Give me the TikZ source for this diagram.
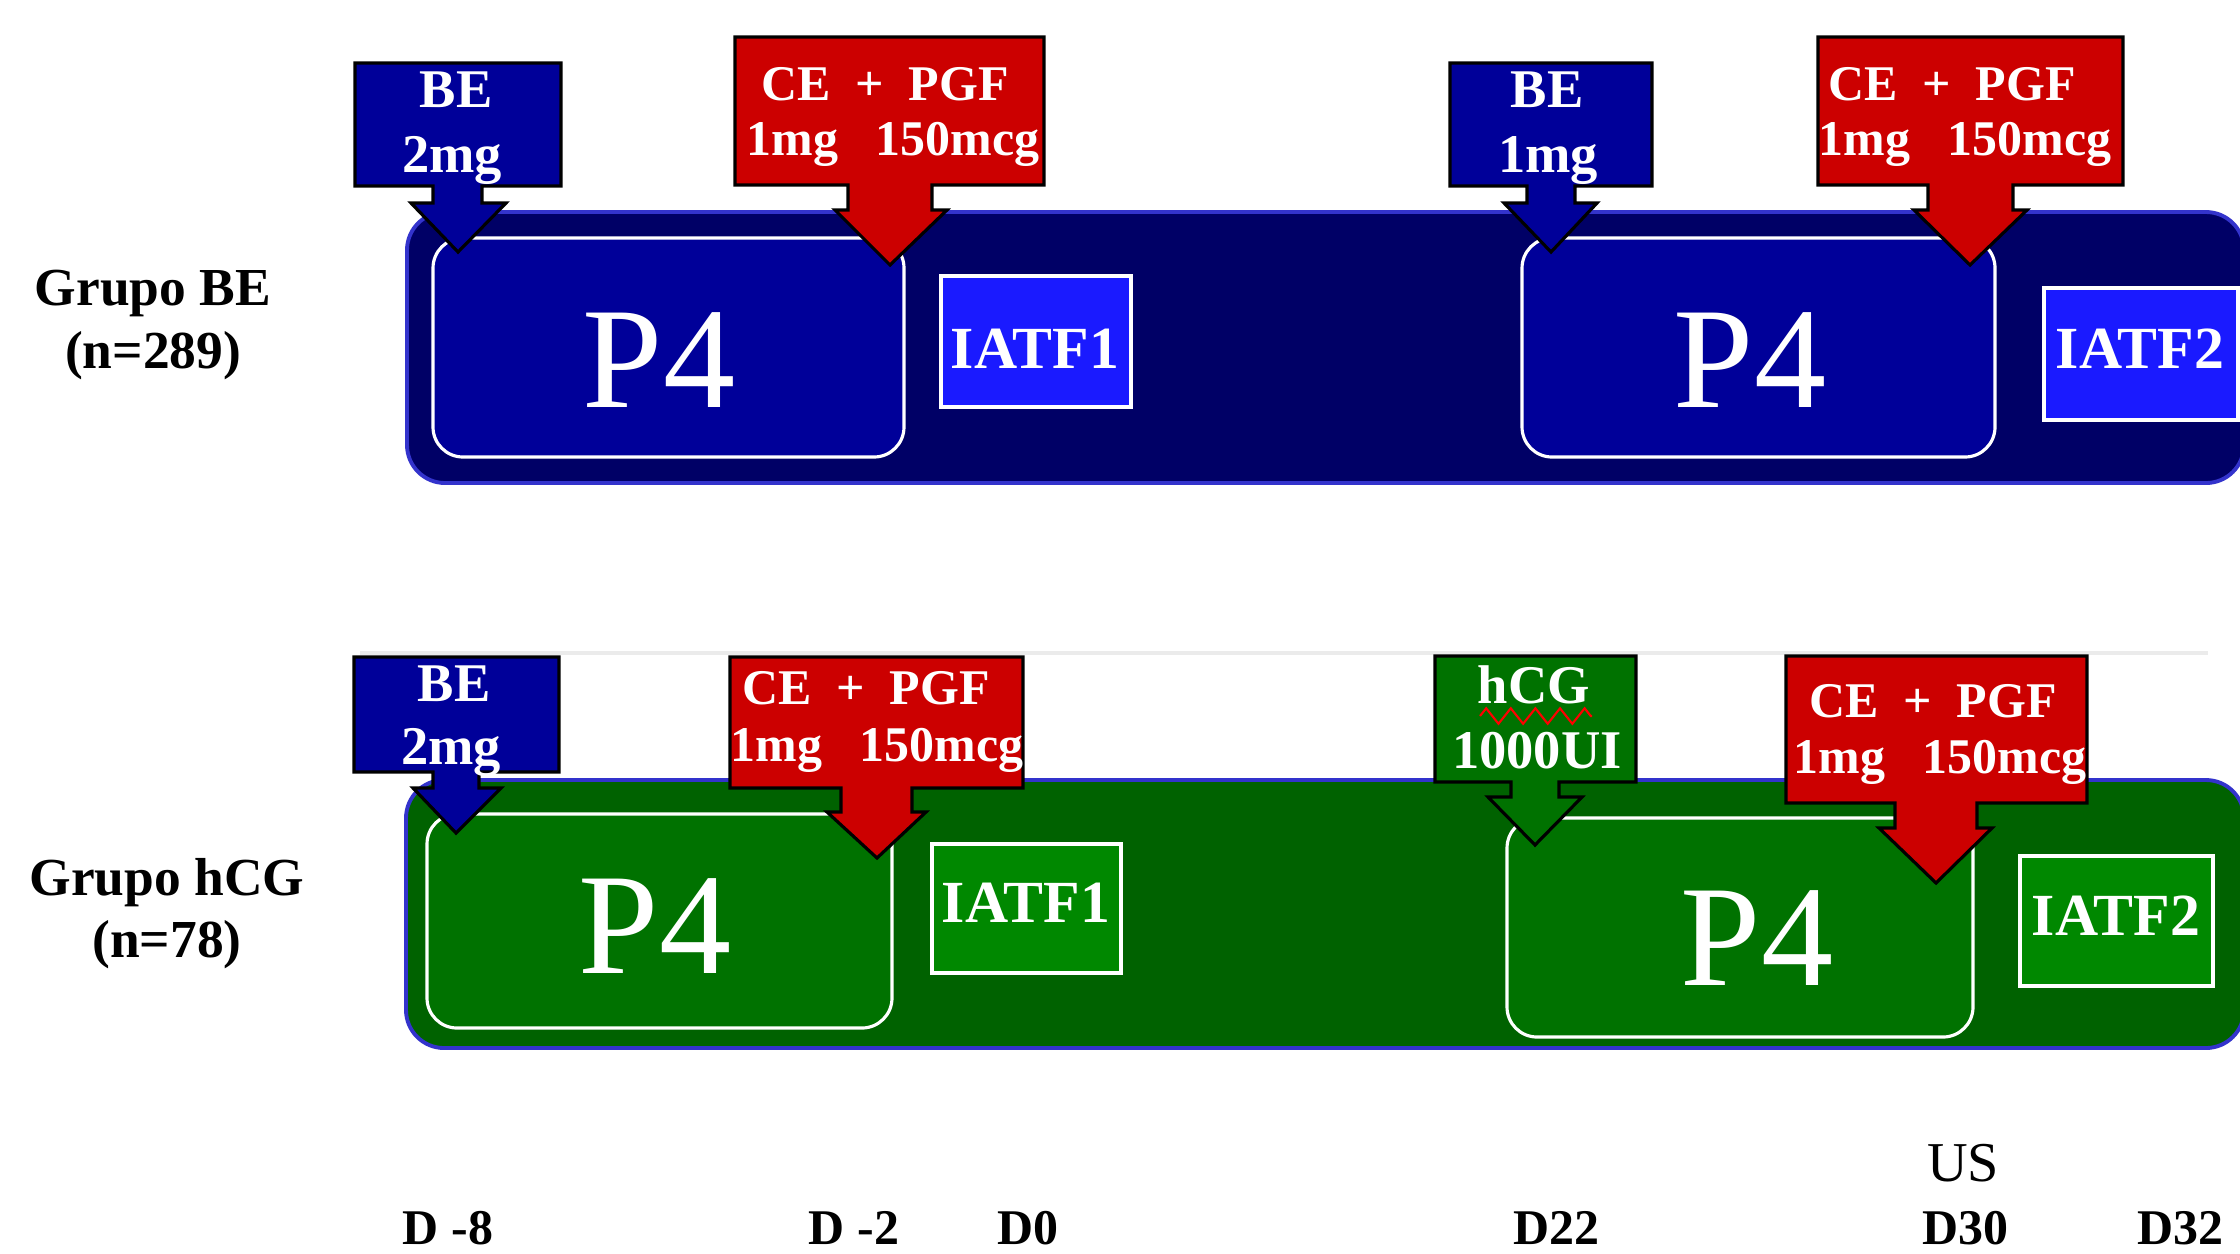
\documentclass[tikz,border=0pt]{standalone}
\usepackage{fontspec}
\setmainfont{Liberation Serif}
\usetikzlibrary{decorations.pathmorphing}
\definecolor{navybar}{RGB}{0,0,102}
\definecolor{navybox}{RGB}{0,0,153}
\definecolor{brightblue}{RGB}{26,26,255}
\definecolor{barborder}{RGB}{51,51,204}
\definecolor{redbox}{RGB}{204,0,0}
\definecolor{greenbar}{RGB}{0,98,0}
\definecolor{greenbox}{RGB}{0,114,0}
\definecolor{greeniatf}{RGB}{0,136,0}
\tikzset{
  bar/.style={draw=barborder, line width=1.1pt, rounded corners=0.38cm},
  pbox/.style={draw=white, line width=0.9pt, rounded corners=0.3cm},
  ibox/.style={draw=white, line width=1.1pt},
  callout/.style={draw=black, line width=0.9pt, line join=miter},
  ctext/.style={text=white, font=\bfseries\fontsize{14.2}{16}\selectfont, anchor=base, inner sep=0pt},
  betext/.style={text=white, font=\bfseries\fontsize{15.5}{18}\selectfont, anchor=base, inner sep=0pt},
  p4text/.style={text=white, font=\fontsize{41}{45}\selectfont, anchor=base, inner sep=0pt},
  itext/.style={text=white, font=\bfseries\fontsize{17}{19}\selectfont, anchor=base, inner sep=0pt},
  grp/.style={font=\bfseries\fontsize{15.2}{18}\selectfont, anchor=base, inner sep=0pt},
  day/.style={font=\bfseries\fontsize{14.2}{16}\selectfont, anchor=base, inner sep=0pt},
  ustext/.style={font=\fontsize{16}{18}\selectfont, anchor=base, inner sep=0pt},
}
\begin{document}
\begin{tikzpicture}[x=0.01cm,y=-0.01cm]
\useasboundingbox (0,0) rectangle (2240,1253);
\fill[white] (0,0) rectangle (2240,1253);
\begin{scope}
\clip (0,0) rectangle (2240,1253);

% faint separator line
\draw[black!8, line width=1pt] (360,653) -- (2208,653);

% ---------- Grupo BE ----------
\draw[bar, fill=navybar] (407,212) rectangle (2244,483);
\draw[pbox, fill=navybox] (433,238) rectangle (904,457);
\draw[pbox, fill=navybox] (1522,238) rectangle (1995,457);
\draw[ibox, fill=brightblue] (941,276) rectangle (1131,407);
\draw[ibox, fill=brightblue] (2044,288) rectangle (2238,420);

\node[p4text] (p4a) at (659,407) {P4};
\node[p4text] (p4b) at (1750,407) {P4};
\node[itext] (iatfa) at (1035,368) {IATF1};
\node[itext] (iatfb) at (2140,368) {IATF2};

% callouts top
\draw[callout, fill=navybox] (355,63) -- (561,63) -- (561,186) -- (482,186) -- (482,203) -- (506,203) -- (458,252) -- (411,203) -- (433,203) -- (433,186) -- (355,186) -- cycle;
\draw[callout, fill=redbox] (735,37) -- (1044,37) -- (1044,185) -- (932,185) -- (932,210) -- (947,210) -- (890,265) -- (835,210) -- (848,210) -- (848,185) -- (735,185) -- cycle;
\draw[callout, fill=navybox] (1450,63) -- (1652,63) -- (1652,186) -- (1575,186) -- (1575,203) -- (1597,203) -- (1551,252) -- (1504,203) -- (1527,203) -- (1527,186) -- (1450,186) -- cycle;
\draw[callout, fill=redbox] (1818,37) -- (2123,37) -- (2123,185) -- (2013,185) -- (2013,210) -- (2027,210) -- (1970,265) -- (1914,210) -- (1928,210) -- (1928,185) -- (1818,185) -- cycle;

\node[betext] (c1a) at (456,107) {BE};
\node[betext] (c1b) at (452,172) {2mg};
\node[ctext] (c2a) at (885,100) {CE\ \ +\ \ PGF};
\node[ctext] (c2b) at (893,155) {1mg\ \ \ 150mcg};
\node[betext] (c3a) at (1547,107) {BE};
\node[betext] (c3b) at (1548,172) {1mg};
\node[ctext] (c4a) at (1952,100) {CE\ \ +\ \ PGF};
\node[ctext] (c4b) at (1965,155) {1mg\ \ \ 150mcg};

% ---------- Grupo hCG ----------
\draw[bar, fill=greenbar] (406,780) rectangle (2244,1048);
\draw[pbox, fill=greenbox] (427,814) rectangle (892,1028);
\draw[pbox, fill=greenbox] (1507,818) rectangle (1973,1037);
\draw[ibox, fill=greeniatf] (932,844) rectangle (1121,973);
\draw[ibox, fill=greeniatf] (2020,856) rectangle (2213,986);

\node[p4text] (p4c) at (655,973) {P4};
\node[p4text] (p4d) at (1757,985) {P4};
\node[itext] (iatfc) at (1026,922) {IATF1};
\node[itext] (iatfd) at (2116,935) {IATF2};

% callouts bottom
\draw[callout, fill=navybox] (354,657) -- (559,657) -- (559,772) -- (479,772) -- (479,788) -- (501,788) -- (456,833) -- (413,788) -- (433,788) -- (433,772) -- (354,772) -- cycle;
\draw[callout, fill=redbox] (730,657) -- (1023,657) -- (1023,788) -- (912,788) -- (912,812) -- (926,812) -- (877,858) -- (827,812) -- (841,812) -- (841,788) -- (730,788) -- cycle;
\draw[callout, fill=greenbox] (1435,656) -- (1636,656) -- (1636,782) -- (1559,782) -- (1559,797) -- (1582,797) -- (1535,845) -- (1488,797) -- (1511,797) -- (1511,782) -- (1435,782) -- cycle;
\draw[callout, fill=redbox] (1786,656) -- (2087,656) -- (2087,803) -- (1977,803) -- (1977,828) -- (1992,828) -- (1936,883) -- (1879,828) -- (1895,828) -- (1895,803) -- (1786,803) -- cycle;

\node[betext] (c5a) at (454,701) {BE};
\node[betext] (c5b) at (451,764) {2mg};
\node[ctext] (c6a) at (866,704) {CE\ \ +\ \ PGF};
\node[ctext] (c6b) at (877,761) {1mg\ \ \ 150mcg};
\node[betext] (c7a) at (1534,703) {hCG};
\node[betext] (c7b) at (1537,768) {1000UI};
\coordinate (wavyL) at (1480,716);
\coordinate (wavyR) at (1592,716);
\draw[red, line width=0.6pt, decorate, decoration={zigzag, segment length=7, amplitude=2.2}] (wavyL) -- (wavyR);
\node[ctext] (c8a) at (1933,717) {CE\ \ +\ \ PGF};
\node[ctext] (c8b) at (1940,773) {1mg\ \ \ 150mcg};

% ---------- group labels ----------
\node[grp] (g1a) at (153,305) {Grupo BE};
\node[grp] (g1b) at (153,368) {(n=289)};
\node[grp] (g2a) at (167,895) {Grupo hCG};
\node[grp] (g2b) at (167,957) {(n=78)};

% ---------- day axis ----------
\node[ustext] (us) at (1963,1181) {US};
\node[day] (dm8) at (448,1244) {D -8};
\node[day] (dm2) at (854,1244) {D -2};
\node[day] (d0) at (1028,1244) {D0};
\node[day] (d22) at (1556,1244) {D22};
\node[day] (d30) at (1965,1244) {D30};
\node[day] (d32) at (2180,1244) {D32};
\end{scope}
\end{tikzpicture}
\end{document}
